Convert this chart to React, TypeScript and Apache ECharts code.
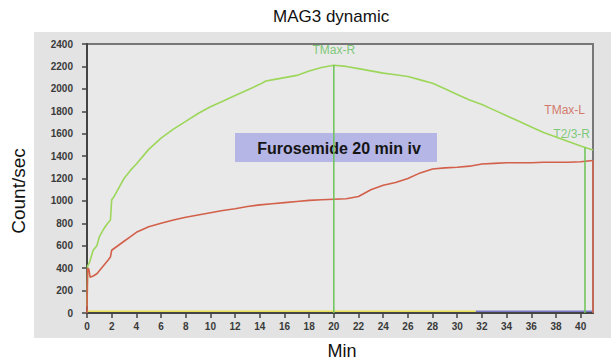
import React, { useEffect, useRef } from "react";
import * as echarts from "echarts";

const greenT = [0, 0.05, 0.2, 0.5, 0.8, 1.0, 1.3, 1.6, 1.9, 2.0, 2.2, 2.5, 3, 3.5, 4, 5, 6, 7, 8, 9, 10, 11, 12, 13, 14, 14.5, 15, 16, 17, 18, 19, 20, 21, 22, 23, 24, 25, 26, 27, 28, 29, 30, 31, 32, 33, 34, 35, 36, 37, 38, 39, 40, 41];
const greenV = [60, 420, 450, 560, 600, 680, 740, 790, 830, 1010, 1040, 1100, 1200, 1270, 1330, 1460, 1560, 1640, 1710, 1780, 1840, 1890, 1940, 1990, 2040, 2070, 2080, 2100, 2120, 2160, 2190, 2210, 2200, 2180, 2160, 2140, 2125, 2110, 2080, 2050, 2000, 1950, 1900, 1860, 1810, 1760, 1710, 1660, 1610, 1570, 1530, 1490, 1455];

const redT = [0, 0.05, 0.15, 0.25, 0.5, 0.8, 1.1, 1.4, 1.7, 1.9, 2.0, 2.5, 3, 3.5, 4, 5, 6, 7, 8, 9, 10, 11, 12, 13, 14, 15, 16, 17, 18, 19, 20, 21, 22, 23, 24, 25, 26, 27, 28, 29, 30, 31, 32, 33, 34, 35, 36, 37, 38, 39, 40, 41];
const redV = [0, 400, 390, 320, 330, 350, 390, 430, 470, 500, 560, 600, 640, 680, 720, 770, 800, 830, 855, 875, 895, 915, 930, 950, 965, 975, 985, 995, 1005, 1010, 1015, 1020, 1040, 1100, 1140, 1165, 1200, 1250, 1285, 1295, 1300, 1310, 1330, 1335, 1340, 1340, 1340, 1345, 1345, 1345, 1350, 1360];

const baseYellow = [[0, 15], [31.5, 15]];
const baseBlue = [[31.5, 15], [41, 15]];

const tmaxR = [[20, 0], [20, 2210]];
const t23R = [[40.35, 0], [40.35, 1475]];
const tmaxL = [[41, 0], [41, 1360]];

const labelTop = [{ name: "TMax-R", value: [20, 2350] }];
const labelsRight = [{ name: "T2/3-R", value: [41, 1600] }];
const labelsLeft = [{ name: "TMax-L", value: [41, 1810] }];

const xTicks = { min: 0, max: 41, interval: 2 };
const yTicks = { min: 0, max: 2400, interval: 200 };

const zip = (a: number[], b: number[]) => a.map((t, i) => [t, b[i]]);

export default function App() {
  const ref = useRef<HTMLDivElement>(null);
  useEffect(() => {
    if (!ref.current) return;
    const chart = echarts.init(ref.current, null, { renderer: "svg" });
    const sans = "'Liberation Sans', Arial, sans-serif";
    const tickLabel = { fontSize: 10, fontWeight: "bold", color: "#3a3a3a", fontFamily: sans };
    chart.setOption({
      animation: false,
      backgroundColor: "#ffffff",
      title: {
        text: "MAG3 dynamic",
        left: 268,
        top: 3,
        textStyle: { fontFamily: sans, fontSize: 17, fontWeight: "normal", color: "#111" },
      },
      graphic: [
        { type: "rect", z: -10, shape: { x: 34, y: 32, width: 577, height: 306 }, style: { fill: "#e3e3e3" } },
        {
          type: "text",
          x: 18,
          y: 191,
          rotation: Math.PI / 2,
          style: { text: "Count/sec", fontSize: 19, fontFamily: sans, fill: "#111", align: "center", verticalAlign: "middle" },
        },
        {
          type: "text",
          x: 342,
          y: 351,
          style: { text: "Min", fontSize: 18, fontFamily: sans, fill: "#111", align: "center", verticalAlign: "middle" },
        },
        {
          type: "group",
          z: 50,
          children: [
            { type: "rect", shape: { x: 235, y: 133, width: 202, height: 29 }, style: { fill: "#b6b6e6" } },
            {
              type: "text",
              x: 339,
              y: 148,
              style: { text: "Furosemide 20 min iv", fontSize: 16, fontWeight: "bold", fontFamily: sans, fill: "#151515", align: "center", verticalAlign: "middle" },
            },
          ],
        },
      ],
      grid: {
        left: 87,
        top: 44,
        right: 18,
        bottom: 51,
        show: true,
        backgroundColor: "#e9e9e9",
        borderColor: "#777",
        borderWidth: 2,
      },
      xAxis: {
        type: "value",
        min: xTicks.min,
        max: xTicks.max,
        interval: xTicks.interval,
        splitLine: { show: false },
        axisLine: { show: true, lineStyle: { color: "#444", width: 2 } },
        axisTick: { show: true, length: 5, lineStyle: { color: "#444", width: 1.5 } },
        axisLabel: { ...tickLabel, margin: 8, showMaxLabel: false, formatter: (v: number) => String(v) },
      },
      yAxis: {
        type: "value",
        min: yTicks.min,
        max: yTicks.max,
        interval: yTicks.interval,
        splitLine: { show: false },
        axisLine: { show: true, lineStyle: { color: "#444", width: 2 } },
        axisTick: { show: true, length: 5, lineStyle: { color: "#444", width: 1.5 } },
        axisLabel: { ...tickLabel, margin: 14, formatter: (v: number) => String(v) },
      },
      series: [
        { type: "line", data: baseYellow, symbol: "none", lineStyle: { color: "#e8e050", width: 1.6 } },
        { type: "line", data: baseBlue, symbol: "none", lineStyle: { color: "#7a78c4", width: 1.6 } },
        { type: "line", data: zip(greenT, greenV), symbol: "none", lineStyle: { color: "#9cd65a", width: 1.6 } },
        { type: "line", data: zip(redT, redV), symbol: "none", lineStyle: { color: "#d2604a", width: 1.6 } },
        { type: "line", data: tmaxR, symbol: "none", lineStyle: { color: "#6cc455", width: 1.5 } },
        { type: "line", data: t23R, symbol: "none", lineStyle: { color: "#6cc455", width: 1.5 } },
        { type: "line", data: tmaxL, symbol: "none", lineStyle: { color: "#d8664e", width: 1.5 } },
        {
          type: "scatter",
          data: labelTop,
          symbolSize: 0,
          clip: false,
          label: { show: true, formatter: "{b}", position: "inside", color: "#62c05a", fontSize: 12, fontFamily: sans },
        },
        {
          type: "scatter",
          data: labelsRight,
          symbolSize: 0,
          clip: false,
          label: { show: true, formatter: "{b}", position: "left", distance: 3, color: "#62c05a", fontSize: 12, fontFamily: sans },
        },
        {
          type: "scatter",
          data: labelsLeft,
          symbolSize: 0,
          clip: false,
          label: { show: true, formatter: "{b}", position: "left", distance: 8, color: "#cc5a48", fontSize: 12, fontFamily: sans },
        },
      ],
    });
    return () => chart.dispose();
  }, []);
  return <div ref={ref} style={{ width: 611, height: 364, position: "fixed", left: 0, top: 0 }} />;
}
